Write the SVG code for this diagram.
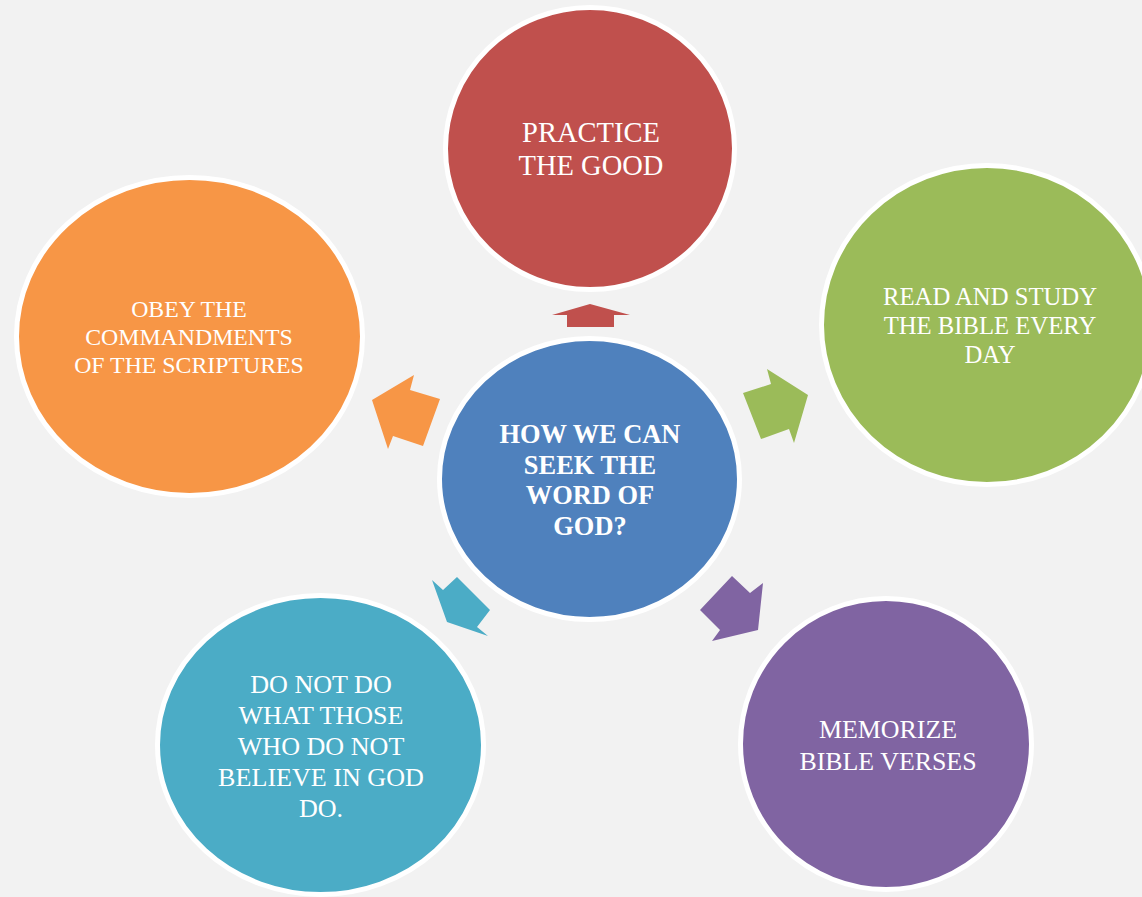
<svg xmlns="http://www.w3.org/2000/svg" width="1142" height="897" viewBox="0 0 1142 897">
<style>
.node{stroke:#FFFFFF;stroke-width:5}
.t{font-family:"Liberation Serif","Times New Roman",serif;fill:#FFFFFF;text-anchor:middle}
.b{font-weight:bold}
</style>
<rect x="0" y="0" width="1142" height="897" fill="#F2F2F2"/>
<g id="connectors">
<polygon fill="#C0504D" points="590,304 630,315 614,315 614,327 567,327 567,315 552,315"/>
<polygon fill="#9BBB59" points="808,395 767,369 771,384 743,393 761,439 789,429 794,443"/>
<polygon fill="#8064A2" points="758,630 763,583 750,593 732,576 700,610 720,630 712,641"/>
<polygon fill="#4BACC6" points="447,622 488,636 477,627 490,610 457,577 443,590 432,580"/>
<polygon fill="#F79646" points="372,400 414,375 410,390 440,399 423,446 393,436 388,449"/>
</g>
<g id="center">
<ellipse class="node" cx="589.5" cy="479" rx="150" ry="140.5" fill="#4F81BD"/>
<text class="t b" font-size="26.4"><tspan x="590" y="443">HOW WE CAN</tspan><tspan x="590" y="474">SEEK THE</tspan><tspan x="590" y="504">WORD OF</tspan><tspan x="590" y="535">GOD?</tspan></text>
</g>
<g id="practice">
<ellipse class="node" cx="590" cy="148.5" rx="144.5" ry="141" fill="#C0504D"/>
<text class="t" font-size="28.5"><tspan x="591" y="142">PRACTICE</tspan><tspan x="591" y="175">THE GOOD</tspan></text>
</g>
<g id="read">
<ellipse class="node" cx="987" cy="325" rx="165.5" ry="159.5" fill="#9BBB59"/>
<text class="t" font-size="24.7"><tspan x="990" y="305">READ AND STUDY</tspan><tspan x="990" y="334">THE BIBLE EVERY</tspan><tspan x="990" y="363">DAY</tspan></text>
</g>
<g id="memorize">
<ellipse class="node" cx="886" cy="744" rx="145.5" ry="145.5" fill="#8064A2"/>
<text class="t" font-size="25.9"><tspan x="888" y="738">MEMORIZE</tspan><tspan x="888" y="770">BIBLE VERSES</tspan></text>
</g>
<g id="donot">
<ellipse class="node" cx="320.5" cy="745" rx="163" ry="149.5" fill="#4BACC6"/>
<text class="t" font-size="26.1"><tspan x="321" y="693">DO NOT DO</tspan><tspan x="321" y="724">WHAT THOSE</tspan><tspan x="321" y="755">WHO DO NOT</tspan><tspan x="321" y="786">BELIEVE IN GOD</tspan><tspan x="321" y="817">DO.</tspan></text>
</g>
<g id="obey">
<ellipse class="node" cx="189.5" cy="336.5" rx="173" ry="159" fill="#F79646"/>
<text class="t" font-size="23.8"><tspan x="189" y="317">OBEY THE</tspan><tspan x="189" y="345">COMMANDMENTS</tspan><tspan x="189" y="373">OF THE SCRIPTURES</tspan></text>
</g>
</svg>
